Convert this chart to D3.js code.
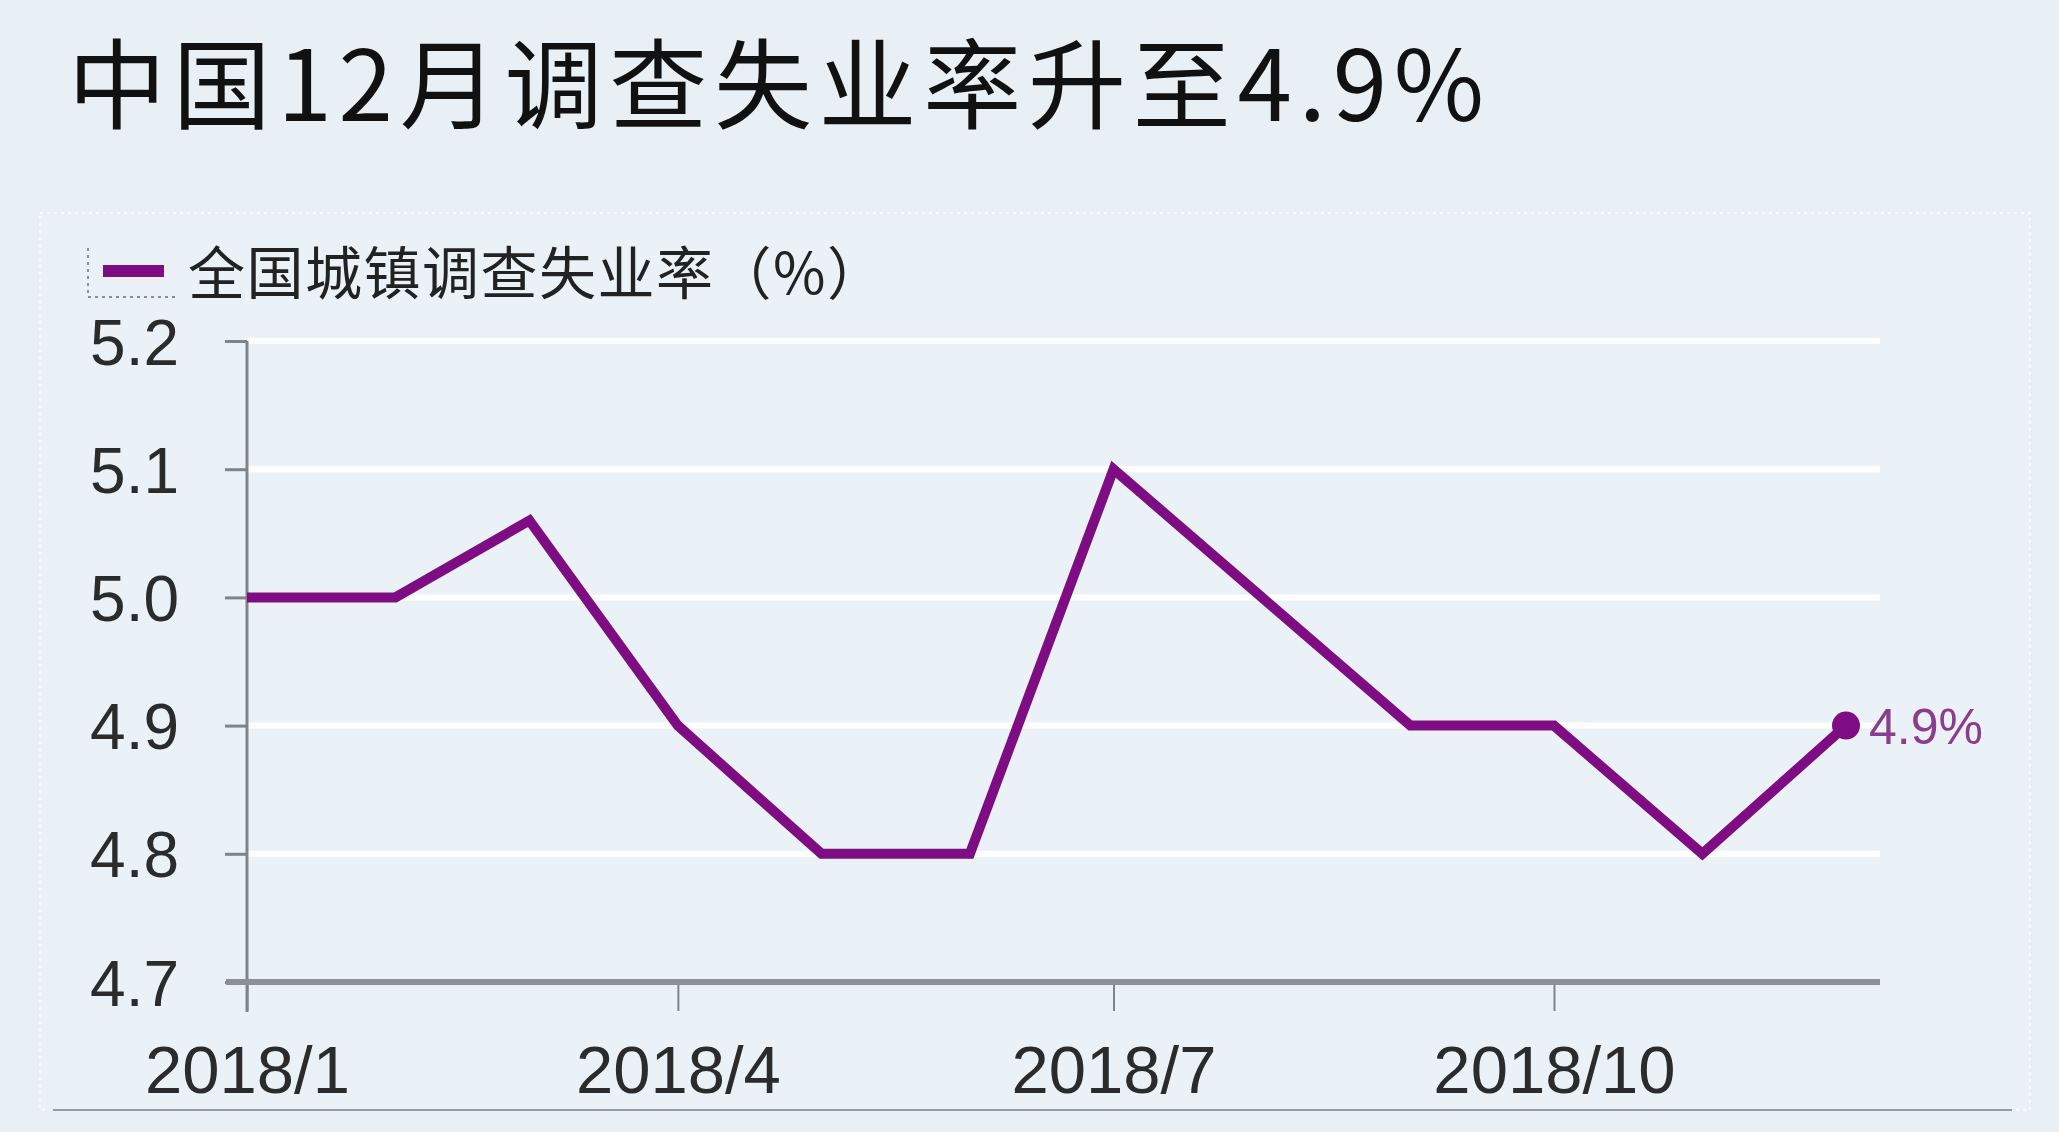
<!DOCTYPE html>
<html>
<head>
<meta charset="utf-8">
<script src="https://cdn.jsdelivr.net/npm/d3@7"></script>
<style>
  html, body { margin: 0; padding: 0; background: #e8f0f5; }
  svg { display: block; }
</style>
</head>
<body>
<svg id="chart" width="2059" height="1132"></svg>
<script>
// ---- data ----
const titleText = "中国12月调查失业率升至4.9%";
const seriesName = "全国城镇调查失业率（%）";
const months = ["2018-01","2018-02","2018-03","2018-04","2018-05","2018-06","2018-07","2018-08","2018-09","2018-10","2018-11","2018-12"];
const rates = [5.0, 5.0, 5.06, 4.9, 4.8, 4.8, 5.1, 5.0, 4.9, 4.9, 4.8, 4.9];
const yTicks = [4.7, 4.8, 4.9, 5.0, 5.1, 5.2];
const xTickMonths = ["2018-01","2018-04","2018-07","2018-10"];
const xTickLabels = ["2018/1","2018/4","2018/7","2018/10"];
const lastLabel = "4.9%";

// ---- layout ----
const W = 2059, H = 1132;
const svg = d3.select("#chart");
const parse = d3.timeParse("%Y-%m");
const data = months.map((m, i) => ({ date: parse(m), value: rates[i] }));
const purple = "#7e0c83";

const plotLeft = 247, plotRight = 1880, plotTop = 341, plotBottom = 982;
const x = d3.scaleTime()
  .domain([parse("2018-01"), parse("2018-12")])
  .range([plotLeft, 1846]);
const y = d3.scaleLinear().domain([4.7, 5.2]).range([plotBottom, plotTop]);

// background
svg.append("rect").attr("width", W).attr("height", H).attr("fill", "#e8f0f5");
// panel
svg.append("rect").attr("x", 40).attr("y", 213).attr("width", 1990).attr("height", 897)
  .attr("fill", "#eaf2f7").attr("stroke", "#f6fafc").attr("stroke-width", 2)
  .attr("stroke-dasharray", "3,4");
// bottom rule
svg.append("line").attr("x1", 53).attr("x2", 2012).attr("y1", 1110).attr("y2", 1110)
  .attr("stroke", "#8e9ea3").attr("stroke-width", 2);

// title
svg.append("text")
  .attr("x", 68).attr("y", 121)
  .attr("font-family", "'Noto Sans CJK SC', 'Noto Sans', sans-serif")
  .attr("font-size", 98)
  .attr("fill", "#111")
  .attr("textLength", 1416).attr("lengthAdjust", "spacing")
  .text(titleText);

// legend
const lg = svg.append("g");
lg.append("path").attr("d", "M88,248 V297 H176")
  .attr("fill", "none").attr("stroke", "#6a6f73").attr("stroke-width", 1.5)
  .attr("stroke-dasharray", "3,4");
lg.append("rect").attr("x", 103).attr("y", 265).attr("width", 61).attr("height", 12)
  .attr("fill", purple);
lg.append("text").attr("x", 188).attr("y", 294)
  .attr("font-family", "'Noto Sans CJK SC', sans-serif")
  .attr("font-size", 57).attr("letter-spacing", 1.5).attr("fill", "#222")
  .text(seriesName);

// gridlines
svg.append("g").selectAll("line").data(yTicks.filter(t => t > 4.7)).join("line")
  .attr("x1", plotLeft).attr("x2", plotRight)
  .attr("y1", d => y(d)).attr("y2", d => y(d))
  .attr("stroke", "#ffffff").attr("stroke-width", 6);

// y axis
const yAxis = d3.axisLeft(y).tickValues(yTicks).tickSize(22).tickPadding(46)
  .tickFormat(d3.format(".1f"));
const yg = svg.append("g").attr("transform", `translate(${plotLeft},0)`).call(yAxis);
yg.select(".domain").remove();
yg.selectAll(".tick line").attr("stroke", "#7d8589").attr("stroke-width", 3);
yg.selectAll(".tick text")
  .attr("font-family", "'Liberation Sans', Arial, sans-serif")
  .attr("font-size", 64).attr("fill", "#2b2b2b").attr("dy", "0.36em");
// y axis vertical line
svg.append("line").attr("x1", plotLeft).attr("x2", plotLeft)
  .attr("y1", plotTop).attr("y2", 1012)
  .attr("stroke", "#7d8589").attr("stroke-width", 3);

// x axis
const xAxis = d3.axisBottom(x).tickValues(xTickMonths.map(parse))
  .tickSize(29).tickPadding(34)
  .tickFormat((d, i) => xTickLabels[i]);
const xg = svg.append("g").attr("transform", `translate(0,${plotBottom})`).call(xAxis);
xg.select(".domain").remove();
xg.selectAll(".tick line").attr("stroke", "#7d8589").attr("stroke-width", 2);
xg.selectAll(".tick text")
  .attr("font-family", "'Liberation Sans', Arial, sans-serif")
  .attr("font-size", 67).attr("fill", "#2b2b2b");
svg.append("line").attr("x1", 226).attr("x2", plotRight)
  .attr("y1", plotBottom).attr("y2", plotBottom)
  .attr("stroke", "#8a9094").attr("stroke-width", 6);

// line
const line = d3.line().x(d => x(d.date)).y(d => y(d.value));
svg.append("path").datum(data)
  .attr("d", line)
  .attr("fill", "none").attr("stroke", purple).attr("stroke-width", 10)
  .attr("stroke-linejoin", "miter");

// last point
const last = data[data.length - 1];
svg.append("circle").attr("cx", x(last.date)).attr("cy", y(last.value)).attr("r", 14)
  .attr("fill", purple);
svg.append("text").attr("x", x(last.date) + 23).attr("y", y(last.value) + 18)
  .attr("font-family", "'Liberation Sans', Arial, sans-serif")
  .attr("font-size", 50).attr("fill", "#8a3d8e")
  .text(lastLabel);
</script>
</body>
</html>
